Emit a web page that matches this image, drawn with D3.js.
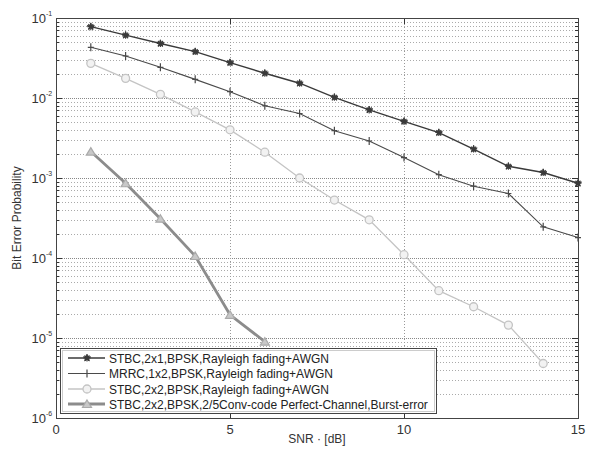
<!DOCTYPE html>
<html><head><meta charset="utf-8">
<script src="https://cdn.jsdelivr.net/npm/d3@7"></script>
<style>body{margin:0;background:#fff}svg{display:block}text{font-family:"Liberation Sans",Arial,sans-serif}</style>
</head><body><div id="chart"></div>
<script>
const snr = [1,2,3,4,5,6,7,8,9,10,11,12,13,14,15];
const stbc21 = [0.078,0.061,0.048,0.038,0.0277,0.0204,0.0153,0.0102,0.0071,0.0051,0.0037,0.0023,0.0014,0.00117,0.00086];
const mrrc12 = [0.043,0.0335,0.0242,0.0171,0.012,0.008,0.0064,0.0039,0.0029,0.0018,0.0011,0.00079,0.00064,0.000245,0.00018];
const stbc22 = [0.0271,0.0176,0.0111,0.0067,0.0040,0.0021,0.0010,0.00053,0.0003,0.00011,0.000039,0.0000246,0.0000145,0.0000048];
const stbc22conv = [0.00214,0.00086,0.00031,0.000106,0.0000195,0.0000090];
const seriesNames = ["STBC,2x1,BPSK,Rayleigh fading+AWGN","MRRC,1x2,BPSK,Rayleigh fading+AWGN","STBC,2x2,BPSK,Rayleigh fading+AWGN","STBC,2x2,BPSK,2/5Conv-code Perfect-Channel,Burst-error"];
const xTicks = [0,5,10,15];
const yExps = [-1,-2,-3,-4,-5,-6];
const xLabel = "SNR · [dB]";
const yLabel = "Bit Error Probability";

const W=589,H=451;
const m={l:56,r:578,t:18,b:418};
const svg=d3.select("#chart").append("svg").attr("width",W).attr("height",H);
const x=d3.scaleLinear().domain([0,15]).range([m.l,m.r]);
const y=d3.scaleLog().domain([1e-6,1e-1]).range([m.b,m.t]);

// grid
const g=svg.append("g");
const minors=[];
for(let e=-6;e<-1;e++){for(let k=2;k<=9;k++)minors.push(k*Math.pow(10,e));}
g.selectAll(".hm").data(minors).enter().append("line")
 .attr("x1",m.l).attr("x2",m.r).attr("y1",d=>Math.round(y(d))+0.5).attr("y2",d=>Math.round(y(d))+0.5)
 .attr("stroke","#aaa").attr("stroke-dasharray","1,2");
const majors=yExps.map(e=>Math.pow(10,e)).filter(d=>d>1e-6&&d<1e-1);
g.selectAll(".hM").data(majors).enter().append("line")
 .attr("x1",m.l).attr("x2",m.r).attr("y1",d=>Math.round(y(d))+0.5).attr("y2",d=>Math.round(y(d))+0.5)
 .attr("stroke","#888").attr("stroke-dasharray","1,1");
g.selectAll(".vM").data(xTicks.filter(d=>d>0&&d<15)).enter().append("line")
 .attr("y1",m.t).attr("y2",m.b).attr("x1",d=>Math.round(x(d))+0.5).attr("x2",d=>Math.round(x(d))+0.5)
 .attr("stroke","#999").attr("stroke-dasharray","1,2");

// ticks inside frame
const tk=svg.append("g").attr("stroke","#333");
minors.forEach(d=>{const yy=Math.round(y(d))+0.5;
 tk.append("line").attr("x1",m.l).attr("x2",m.l+3).attr("y1",yy).attr("y2",yy);
 tk.append("line").attr("x1",m.r-3).attr("x2",m.r).attr("y1",yy).attr("y2",yy);});
majors.forEach(d=>{const yy=Math.round(y(d))+0.5;
 tk.append("line").attr("x1",m.l).attr("x2",m.l+6).attr("y1",yy).attr("y2",yy);
 tk.append("line").attr("x1",m.r-6).attr("x2",m.r).attr("y1",yy).attr("y2",yy);});
xTicks.forEach(d=>{const xx=Math.round(x(d))+0.5;
 tk.append("line").attr("x1",xx).attr("x2",xx).attr("y1",m.b).attr("y2",m.b-6);
 tk.append("line").attr("x1",xx).attr("x2",xx).attr("y1",m.t).attr("y2",m.t+6);});

// frame
svg.append("rect").attr("x",m.l+0.5).attr("y",m.t+0.5).attr("width",m.r-m.l).attr("height",m.b-m.t)
 .attr("fill","none").attr("stroke","#444");

// tick labels
svg.selectAll(".xl").data(xTicks).enter().append("text")
 .attr("x",d=>x(d)).attr("y",434).attr("text-anchor","middle").attr("font-size",13).attr("fill","#333").text(d=>d);
yExps.forEach(e=>{
 svg.append("text").attr("x",46).attr("y",y(Math.pow(10,e))+5).attr("text-anchor","end").attr("font-size",13).attr("fill","#333").text("10");
 svg.append("text").attr("x",46).attr("y",y(Math.pow(10,e))-2).attr("font-size",7).attr("fill","#333").text(e);
});
svg.append("text").attr("x",317).attr("y",443).attr("text-anchor","middle").attr("font-size",12).attr("fill","#333").text(xLabel);
svg.append("text").attr("transform","translate(21,218) rotate(-90)").attr("text-anchor","middle").attr("font-size",12).attr("fill","#333").text(yLabel);

// series
const styles=[
 {data:stbc21,color:"#3a3a3a",w:1.4,marker:"star"},
 {data:mrrc12,color:"#4a4a4a",w:1.1,marker:"plus"},
 {data:stbc22,color:"#c4c4c4",w:1.3,marker:"circle"},
 {data:stbc22conv,color:"#8c8c8c",w:2.8,marker:"tri"}
];
const line=d3.line().x(d=>x(d[0])).y(d=>y(d[1]));
function drawMarker(sel,type,color,cx,cy){
 if(type==="star"){
  sel.append("path").attr("d",d3.symbol(d3.symbolStar,16)()).attr("transform",`translate(${cx},${cy})`).attr("fill",color).attr("stroke",color).attr("stroke-width",0.8);
  sel.append("path").attr("d",`M${cx-3.5},${cy}H${cx+3.5}M${cx},${cy-3.5}V${cy+3.5}M${cx-2.5},${cy-2.5}L${cx+2.5},${cy+2.5}M${cx-2.5},${cy+2.5}L${cx+2.5},${cy-2.5}`).attr("stroke",color).attr("stroke-width",1.1);
 } else if(type==="plus"){
  sel.append("path").attr("d",`M${cx-3},${cy}H${cx+3}M${cx},${cy-4}V${cy+4}`).attr("stroke",color).attr("stroke-width",1.2);
 } else if(type==="circle"){
  sel.append("circle").attr("cx",cx).attr("cy",cy).attr("r",4).attr("fill","#f2f2f2").attr("stroke",color).attr("stroke-width",1.3);
 } else {
  sel.append("path").attr("d",`M${cx},${cy-4}L${cx+4.5},${cy+3.5}L${cx-4.5},${cy+3.5}Z`).attr("fill","#c8c8c8").attr("stroke","#aaa").attr("stroke-width",1.2);
 }
}
styles.forEach(s=>{
 const pts=s.data.map((v,i)=>[snr[i],v]);
 const gg=svg.append("g");
 gg.append("path").attr("d",line(pts)).attr("fill","none").attr("stroke",s.color).attr("stroke-width",s.w);
 pts.forEach(p=>drawMarker(gg,s.marker,s.color,x(p[0]),y(p[1])));
});

// legend
const lg=svg.append("g");
lg.append("rect").attr("x",60.5).attr("y",348.5).attr("width",376).attr("height",65).attr("fill","#fff").attr("stroke","#444");
lg.append("rect").attr("x",62.5).attr("y",350.5).attr("width",372).attr("height",61).attr("fill","none").attr("stroke","#ccc");
const rowsY=[358,373.5,389,404];
styles.forEach((s,i)=>{
 const yy=rowsY[i];
 lg.append("line").attr("x1",68).attr("x2",105).attr("y1",yy).attr("y2",yy).attr("stroke",s.color).attr("stroke-width",s.w);
 drawMarker(lg,s.marker,s.color,87,yy);
 lg.append("text").attr("x",109).attr("y",yy+4.5).attr("font-size",12).attr("fill","#222").text(seriesNames[i]);
});
</script></body></html>
